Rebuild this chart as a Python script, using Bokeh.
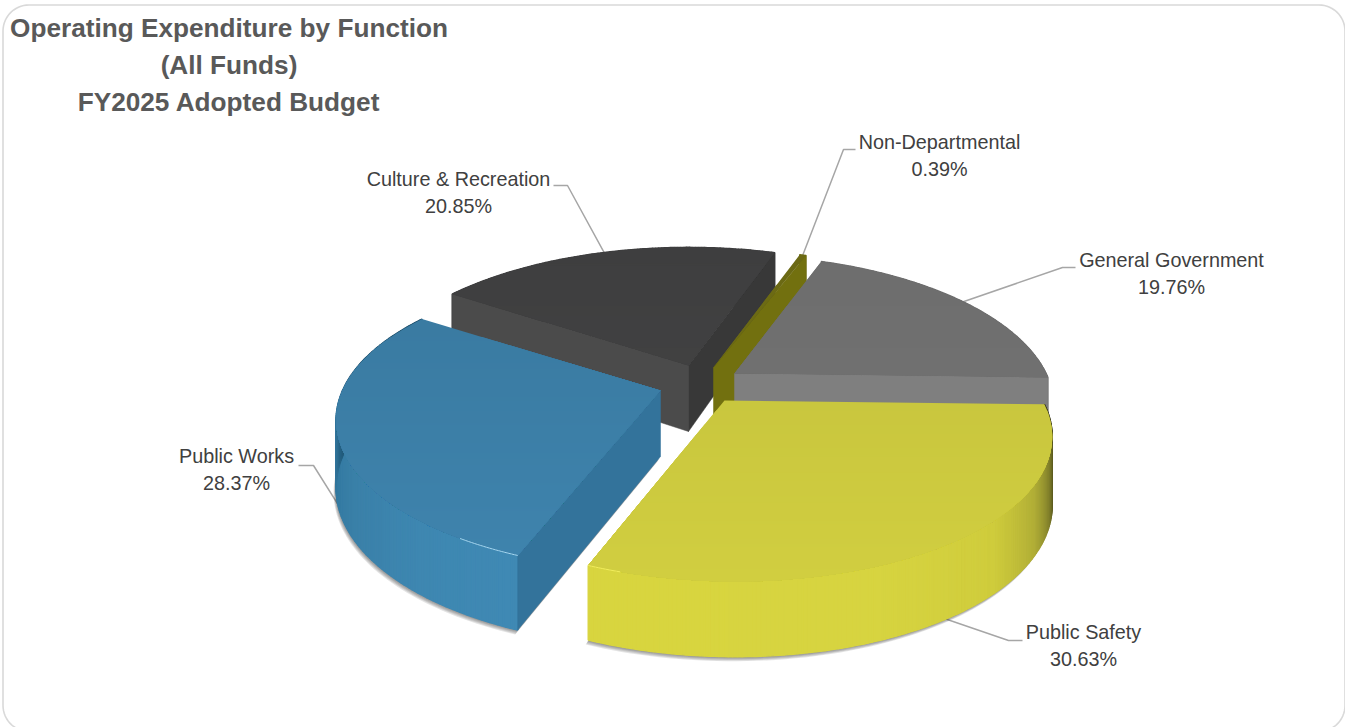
import numpy as np
from bokeh.core.properties import value
from bokeh.embed import file_html
from bokeh.models import Range1d
from bokeh.models import ColumnDataSource
from bokeh.plotting import figure
from bokeh.resources import INLINE

# Budget shares in pie order, clockwise from the right-hand side
categories = ["Public Safety", "Public Works", "Culture & Recreation",
              "Non-Departmental", "General Government"]
shares = [30.63, 28.37, 20.85, 0.39, 19.76]
title_lines = ["Operating Expenditure by Function", "(All Funds)", "FY2025 Adopted Budget"]

# Projection of the tilted disc
RADIUS, TILT_Y, PERSPECTIVE, DEPTH, DEPTH_GROW = 318.0, 143.0, 0.21, 66.0, 0.14
FIRST_ANGLE = 1.5

# Where each exploded slice has its point
APEX = {"Public Safety": (724, 400), "Public Works": (660, 390),
        "Culture & Recreation": (688, 365), "Non-Departmental": (713, 367),
        "General Government": (734, 373)}

# Per-slice width and sideways lean from the viewing perspective
SCALE = {"Public Safety": 1.0, "Public Works": 1.0, "Culture & Recreation": 1.0,
         "Non-Departmental": 1.0, "General Government": 0.98}
LEAN = {"Public Safety": 11.0, "Public Works": 4.0, "Culture & Recreation": 0.0,
        "Non-Departmental": 0.0, "General Government": 4.0}

# Label centre and the leader's elbow for each slice
FONT = "Liberation Sans"
LABEL_POS = {"Public Safety": (1083, 631), "Public Works": (236, 455),
             "Culture & Recreation": (458, 178), "Non-Departmental": (939, 141),
             "General Government": (1171, 259)}
ELBOWS = {"Public Safety": [(1008, 640), (1022, 640)], "Public Works": [(313, 465), (298, 465)],
          "Culture & Recreation": [(567, 185), (553, 185)],
          "Non-Departmental": [(843, 149), (855, 149)],
          "General Government": [(1062, 267), (1075, 267)]}

# (colour at the back of the top face, at its front, front cut face, side cut face)
STYLE = {"Public Safety": ("#c2c03c", "#d1ce40", "#c8c63f", "#c8c63f"),
         "Public Works": ("#38789e", "#3f84ae", "#33739b", "#33739b"),
         "Culture & Recreation": ("#3e3e3f", "#464646", "#4b4b4b", "#383838"),
         "Non-Departmental": ("#6b6914", "#6f6d14", "#72700f", "#72700f"),
         "General Government": ("#6d6d6d", "#757575", "#7f7f7f", "#7f7f7f")}

# Outer wall shading as (angle, colour) stops
WALL = {"Public Safety": [(0, "#2c2c18"), (8, "#363519"), (14, "#4c4b1c"), (22, "#7f7d2a"), (32, "#b0ad36"),
                          (46, "#cfcc3c"), (70, "#d7d440"), (112, "#d8d53f")],
        "Public Works": [(112, "#3f89b4"), (130, "#3e87b1"), (150, "#3a80a8"), (165, "#337aa1"),
                         (174, "#2f7196"), (180, "#225d7e"), (186, "#1a4c68")],
        "Culture & Recreation": [(214, "#3e3e3f"), (289, "#3e3e3f")],
        "Non-Departmental": [(289, "#6b6914"), (291, "#6b6914")],
        "General Government": [(290, "#6d6d6d"), (362, "#6d6d6d")]}


def rgb(h):
    return np.array([int(h[i:i + 2], 16) for i in (1, 3, 5)], float)


def to_hex(c):
    return "#%02x%02x%02x" % tuple(int(round(v)) for v in c)


def mix(a, b, t):
    return to_hex(rgb(a) + (rgb(b) - rgb(a)) * t)


def wall_colour(name, th):
    stops = WALL[name]
    ang = [s[0] for s in stops]
    cols = np.array([rgb(s[1]) for s in stops])
    return to_hex([np.interp(th, ang, cols[:, i]) for i in range(3)])


def project(name, th, r=1.0, drop=False):
    """Screen position of the point at angle th and radius r of a slice."""
    apex = APEX[name]
    u, v = r * np.cos(np.radians(th)), r * np.sin(np.radians(th))
    d = 1 - PERSPECTIVE * v
    x, y = apex[0] + SCALE[name] * RADIUS * u / d + LEAN[name] * v, apex[1] + TILT_Y * v / d
    if drop:
        y = y + DEPTH * (1 + DEPTH_GROW * v)
    return x, y


def clip_below(xs, ys, lim):
    """Part of a convex outline that lies below the screen row lim."""
    pts = list(zip(xs, ys))
    out = []
    for i, (ax, ay) in enumerate(pts):
        bx, by = pts[(i + 1) % len(pts)]
        if ay >= lim:
            out.append((ax, ay))
        if (ay >= lim) != (by >= lim):
            t = (lim - ay) / (by - ay)
            out.append((ax + t * (bx - ax), lim))
    return out


p = figure(width=1345, height=727, output_backend="svg", toolbar_location=None,
           x_range=Range1d(0, 1345), y_range=Range1d(727, 0),
           x_axis_type=None, y_axis_type=None, min_border=0,
           background_fill_color="white", border_fill_color="white", outline_line_color=None)
p.grid.visible = False

# Rounded card outline
L, R, T, B, C = 2.5, 1344.5, 4.5, 731.0, 26.0
arc = np.radians(np.linspace(0, 90, 16))
card_x = np.r_[L + C - C * np.cos(arc), R - C + C * np.sin(arc), R - C + C * np.cos(arc), L + C - C * np.sin(arc), L]
card_y = np.r_[T + C - C * np.sin(arc), T + C - C * np.cos(arc), B - C + C * np.sin(arc), B - C + C * np.cos(arc), T + C]
p.line(card_x, card_y, line_color="#d9d9d9", line_width=1.6)

# Slice angles from the shares
edges = FIRST_ANGLE + np.r_[0, np.cumsum(shares)] * 3.6
spans = {n: (edges[i], edges[i + 1]) for i, n in enumerate(categories)}

# Leader lines sit underneath the slices
for name in categories:
    a0, a1 = spans[name]
    mid = (a0 + a1) / 2
    x0, y0 = project(name, mid, drop=np.sin(np.radians(mid)) > 0)
    pts = [(x0, y0)] + ELBOWS[name]
    p.line([q[0] for q in pts], [q[1] for q in pts], line_color="#a6a6a6", line_width=1.5)

# Soft shadow under the two front slices
for name in ("Public Safety", "Public Works"):
    a0, a1 = spans[name]
    th = np.linspace(a0, a1, 80)
    fx, fy = project(name, th, drop=True)
    ax, ay = project(name, th[0], r=0.0, drop=True)
    xs, ys = np.r_[ax, fx], np.r_[ay, fy]
    for off in (1, 2, 3, 4, 5):
        p.patch(xs - off * 0.5, ys + off * 0.9, fill_color="#303030", fill_alpha=0.13, line_color=None)

# Slices from back to front
for name in ("Culture & Recreation", "Non-Departmental", "General Government", "Public Safety", "Public Works"):
    a0, a1 = spans[name]
    back, front, front_cut, side_cut = STYLE[name]

    # Outer wall as narrow shaded strips, overlapping so no seams show
    steps = np.linspace(a0, a1, max(int((a1 - a0) * 1.5), 2) + 1)
    wx, wy, wc = [], [], []
    for t0, t1 in zip(steps[:-1], steps[1:]):
        x1, y1 = project(name, t0)
        x2, y2 = project(name, t1)
        x3, y3 = project(name, t1, drop=True)
        x4, y4 = project(name, t0, drop=True)
        wx.append([x1, x2, x3, x4])
        wy.append([y1, y2, y3, y4])
        wc.append(wall_colour(name, (t0 + t1) / 2))
    p.patches("xs", "ys", source=ColumnDataSource(dict(xs=wx, ys=wy, c=wc)),
              fill_color="c", line_color="c", line_width=1.4)

    # Only the cut faces turned towards the viewer are drawn
    for ang, col, normal in ((a0, front_cut, a0 - 90), (a1, side_cut, a1 + 90)):
        if np.sin(np.radians(normal)) <= 0:
            continue
        x1, y1 = project(name, ang)
        x2, y2 = project(name, ang, drop=True)
        x3, y3 = project(name, ang, r=0.0, drop=True)
        x4, y4 = project(name, ang, r=0.0)
        p.patch([x1, x2, x3, x4], [y1, y2, y3, y4], fill_color=col, line_color=col, line_width=0.5)

    # Top face, repainted downwards each time the shade changes by one level
    th = np.linspace(a0, a1, 90)
    ox, oy = project(name, th)
    ax, ay = project(name, a0, r=0.0)
    ox, oy = np.r_[ax, ox], np.r_[ay, oy]
    last = None
    for row in np.arange(oy.min(), oy.max(), 2.0):
        shade = mix(back, front, (row - 240) / 340)
        if shade != last:
            pts = clip_below(ox, oy, row)
            p.patch([q[0] for q in pts], [q[1] for q in pts], fill_color=shade, line_color=None)
            last = shade

# Glints along the rim at the front corners
hx, hy = project("Public Works", np.linspace(spans["Public Works"][0], spans["Public Works"][0] + 10, 20))
p.line(hx, hy, line_color="#a5d6f0", line_width=1.0)
gx, gy = project("Public Safety", np.linspace(spans["Public Safety"][1] - 5, spans["Public Safety"][1], 10))
p.line(gx, gy, line_color="#f2ee5c", line_width=1.0)

# Titles and labels
for i, line in enumerate(title_lines):
    p.text([228.5], [27 + 37 * i], text=[line], text_font=value(FONT), text_font_style="bold",
           text_font_size="26.2px", text_color="#595959", text_align="center", text_baseline="middle")

for name, share in zip(categories, shares):
    x, y = LABEL_POS[name]
    for j, s in enumerate((name, f"{share:.2f}%")):
        p.text([x], [y + 27.5 * j], text=[s], text_font=value(FONT), text_font_size="19.8px",
               text_color="#404040", text_align="center", text_baseline="middle")

open("out.html", "w").write(file_html(p, INLINE))
